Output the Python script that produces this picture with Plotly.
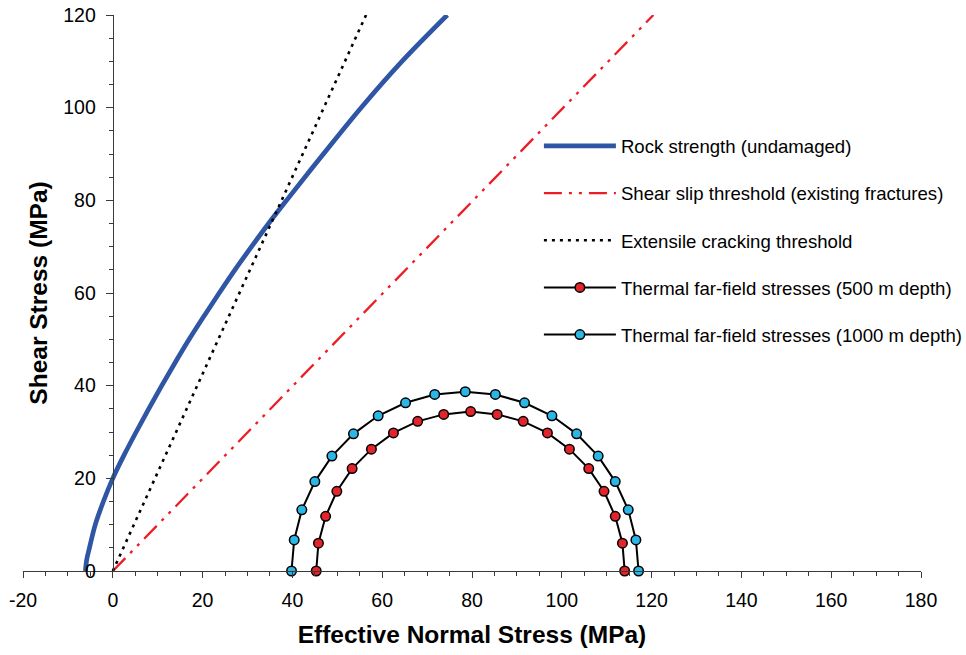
import plotly.graph_objects as go

# ---- Data ----
rock_sigma = [-6.1, -5.8, -5.2, -3.9, -2.1, 0.0, 2.5, 5.2, 8.0, 10.9, 13.9, 17.0,
              20.3, 23.7, 27.2, 30.9, 34.7, 38.7, 46.9, 55.3, 64.4, 74.5]
rock_tau = [0, 2.5, 5, 10, 15, 20, 25, 30, 35, 40, 45, 50,
            55, 60, 65, 70, 75, 80, 90, 100, 110, 120]

slip_sigma = [0.0, 120.4]
slip_tau = [0.0, 120.0]

ext_sigma = [0.0, 56.4]
ext_tau = [0.0, 120.0]

c500_sigma = [45.3, 45.8, 47.4, 49.9, 53.3, 57.6, 62.5, 67.9, 73.7, 79.7,
              85.6, 91.4, 96.8, 101.7, 106.0, 109.4, 111.9, 113.5, 114.0]
c500_tau = [0.0, 6.0, 11.8, 17.2, 22.1, 26.3, 29.8, 32.3, 33.8, 34.4,
            33.8, 32.3, 29.8, 26.3, 22.1, 17.2, 11.8, 6.0, 0.0]

c1000_sigma = [39.8, 40.4, 42.1, 45.0, 48.8, 53.6, 59.1, 65.2, 71.7, 78.5,
               85.2, 91.7, 97.8, 103.3, 108.1, 111.9, 114.8, 116.5, 117.1]
c1000_tau = [0.0, 6.7, 13.2, 19.3, 24.8, 29.6, 33.5, 36.3, 38.1, 38.7,
             38.1, 36.3, 33.5, 29.6, 24.8, 19.3, 13.2, 6.7, 0.0]

x_tickvals = [-20, 0, 20, 40, 60, 80, 100, 120, 140, 160, 180]
x_ticktext = ["-20", "0", "20", "40", "60", "80", "100", "120", "140", "160", "180"]
y_tickvals = [0, 20, 40, 60, 80, 100, 120]
y_ticktext = ["0", "20", "40", "60", "80", "100", "120"]

names = ["Rock strength (undamaged)",
         "Shear slip threshold (existing fractures)",
         "Extensile cracking threshold",
         "Thermal far-field stresses (500 m depth)",
         "Thermal far-field stresses (1000 m depth)"]

FONT = "Liberation Sans, Arial, sans-serif"
AXC = "#3a3a3a"

fig = go.Figure()
fig.add_trace(go.Scatter(x=rock_sigma, y=rock_tau, mode="lines", name=names[0],
                         line=dict(color="#2f55a5", width=4.7, shape="spline", smoothing=1.0),
                         legendgroup="a"))
fig.add_trace(go.Scatter(x=slip_sigma, y=slip_tau, mode="lines", name=names[1],
                         line=dict(color="#ee1c25", width=2.3, dash="18px,7px,3px,7px,3px,7px"),
                         legendgroup="b"))
fig.add_trace(go.Scatter(x=ext_sigma, y=ext_tau, mode="lines", name=names[2],
                         line=dict(color="#000000", width=2.6, dash="3px,5px"),
                         legendgroup="c"))
fig.add_trace(go.Scatter(x=c500_sigma, y=c500_tau, mode="lines+markers", name=names[3],
                         line=dict(color="#000000", width=2),
                         marker=dict(size=9.5, color="#e3242b", line=dict(color="#000000", width=1.5)),
                         cliponaxis=False, legendgroup="d"))
fig.add_trace(go.Scatter(x=c1000_sigma, y=c1000_tau, mode="lines+markers", name=names[4],
                         line=dict(color="#000000", width=2),
                         marker=dict(size=9.5, color="#2bb6e6", line=dict(color="#000000", width=1.5)),
                         cliponaxis=False, legendgroup="e"))

fig.update_layout(
    width=966, height=655,
    margin=dict(l=23, r=45, t=15, b=84, autoexpand=False),
    paper_bgcolor="white", plot_bgcolor="white",
    font=dict(family=FONT, size=19.5, color="#000000"),
    showlegend=True,
    legend=dict(x=0.5745, y=0.798, xanchor="left", yanchor="top",
                traceorder="grouped", tracegroupgap=20, itemwidth=72,
                font=dict(size=18.6, family=FONT), bgcolor="rgba(0,0,0,0)"),
    xaxis=dict(range=[-20, 180], tickmode="array", tickvals=x_tickvals, ticktext=x_ticktext,
               showgrid=False, zeroline=False,
               showline=True, linecolor=AXC, linewidth=1.2,
               ticks="outside", ticklen=6, tickcolor=AXC, tickwidth=1.2,
               ticklabelstandoff=5,
               minor=dict(dtick=5, tick0=0, ticks="outside", ticklen=4, tickcolor=AXC, tickwidth=1.2),
               title=dict(text="<b>Effective Normal Stress (MPa)</b>", font=dict(size=24.5, family=FONT),
                          standoff=16),
               automargin=False, fixedrange=True),
    yaxis=dict(range=[0, 120], tickmode="array", tickvals=y_tickvals, ticktext=y_ticktext,
               showgrid=False, zeroline=False,
               anchor="free", position=0.1,
               showline=True, linecolor=AXC, linewidth=1.2,
               ticks="outside", ticklen=7, tickcolor=AXC, tickwidth=1.2,
               ticklabelstandoff=6,
               minor=dict(dtick=5, tick0=0, ticks="outside", ticklen=4, tickcolor=AXC, tickwidth=1.2),
               title=dict(text="<b>Shear Stress (MPa)</b>", font=dict(size=24.5, family=FONT),
                          standoff=7),
               automargin=False, fixedrange=True),
)

fig.write_html("out.html")
